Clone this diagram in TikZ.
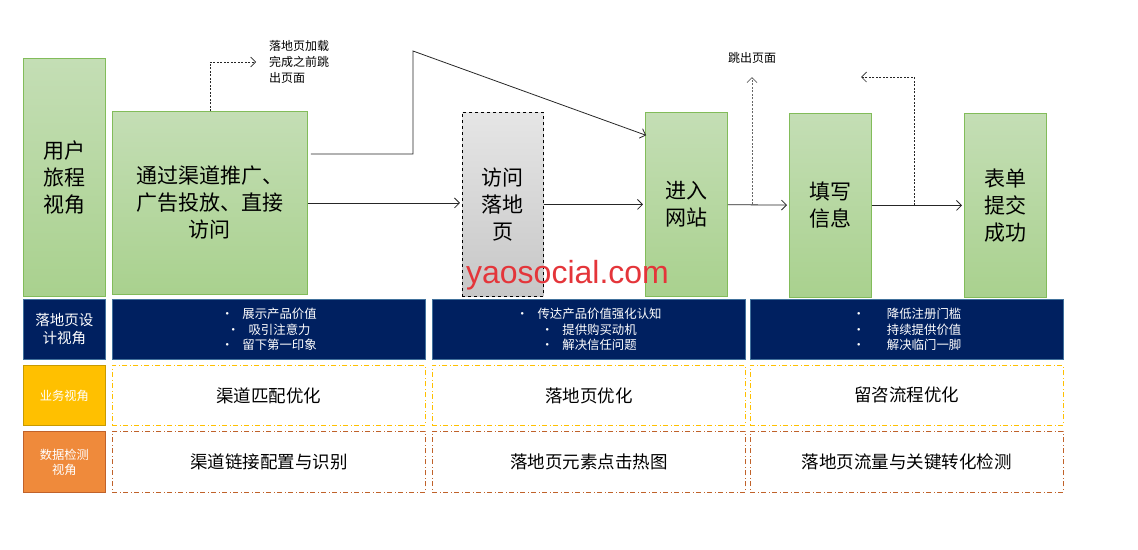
\documentclass[tikz,border=0pt]{standalone}
\usepackage{fontspec}
\setmainfont{Noto Sans CJK SC}
\newfontfamily\latinfont{Liberation Sans}
\usetikzlibrary{arrows.meta}

\definecolor{stagetop}{HTML}{C4DEB5}
\definecolor{stagebot}{HTML}{A9D18E}
\definecolor{stageline}{HTML}{82BC5A}
\definecolor{navy}{HTML}{002060}
\definecolor{navyline}{HTML}{41719C}
\definecolor{bizfill}{HTML}{FFC000}
\definecolor{bizline}{HTML}{C89A00}
\definecolor{datafill}{HTML}{EF8A3B}
\definecolor{dataline}{HTML}{C0622A}
\definecolor{markred}{HTML}{E4353A}

\tikzstyle{stage}=[draw=stageline,line width=0.8pt,top color=stagetop,bottom color=stagebot,
  anchor=north west,align=center,minimum width=82,minimum height=184,
  font=\fontsize{21}{27}\selectfont]
\tikzstyle{visit}=[stage,draw=black,dashed,top color=black!10,bottom color=black!22]
\tikzstyle{design}=[draw=navyline,line width=0.8pt,fill=navy,text=white,anchor=north west,
  align=center,minimum width=313,minimum height=60,font=\fontsize{12.4}{15.5}\selectfont]
\tikzstyle{side}=[anchor=north west,align=center,minimum width=82,minimum height=60,
  line width=0.8pt,text=white,font=\fontsize{12.3}{15}\selectfont]
\tikzstyle{bizbox}=[draw=bizfill,line width=0.8pt,dash pattern=on 5pt off 2.5pt on 1pt off 2.5pt,
  anchor=north west,minimum width=313,minimum height=60,font=\fontsize{17.5}{20}\selectfont]
\tikzstyle{databox}=[bizbox,draw=dataline,minimum height=61]
\tikzstyle{flow}=[draw=black!85,line width=0.8pt,-{Straight Barb[length=5pt,width=10pt]},shorten >=2pt]
\tikzstyle{jump}=[flow,dash pattern=on 2pt off 1.5pt,line width=0.7pt]
\tikzstyle{note}=[align=left,font=\fontsize{12}{16}\selectfont]

\begin{document}
\begin{tikzpicture}[x=1pt,y=-1pt]
  \useasboundingbox (0,0) rectangle (1138,549);

  % user journey
  \node (user) at (23,58) [stage,minimum height=238] {用户\\旅程\\视角};
  \node (channel) at (112,111) [stage,minimum width=195,minimum height=183] {通过渠道推广、\\广告投放、直接\\访问};
  \node (landing) at (462,112) [visit,minimum width=81] {访问\\落地\\页};
  \node (enter) at (645,112) [stage] {进入\\网站};
  \node (fill) at (789,113) [stage] {填写\\信息};
  \node (submit) at (964,113) [stage] {表单\\提交\\成功};

  \draw[flow] (channel.east) -- (channel.east -| landing.west);
  \draw[flow] (landing) -- (enter);
  \draw[flow] (enter) -- (fill);
  \draw[flow] (fill) -- (submit);

  \coordinate (kink) at (413,51);
  \draw[flow] ([xshift=3pt,yshift=49pt]channel.east) -| (kink) -- ([xshift=3pt,yshift=-24pt]enter.north west);

  % bounce before loading
  \node (bounce) at (258,62) [note,anchor=west,inner xsep=11pt] {落地页加载\\完成之前跳\\出页面};
  \draw[jump] (channel.north) |- (bounce.west);

  \node (exit) at (752,58) [note] {跳出页面};
  \draw[jump,draw=black!60] (enter.east -| exit) -- (exit.south) [shorten >=10pt];

  \coordinate (back) at (859,77);
  \coordinate (turn) at (914,77);
  \draw[jump] (turn |- fill.east) -- (turn) -- (back);

  % views
  \node (design) at (23,299) [side,draw=navyline,fill=navy,font=\fontsize{14.5}{18}\selectfont] {落地页设\\计视角};
  \node (biz) at (23,365) [side,draw=bizline,fill=bizfill] {业务视角};
  \node (data) at (23,431) [side,draw=dataline,fill=datafill,minimum height=61] {数据检测\\视角};

  \node (d1) at (112,299) [design] {•\hspace{9pt}展示产品价值\\•\hspace{9pt}吸引注意力\\•\hspace{9pt}留下第一印象};
  \node (d2) at (432,299) [design] {•\hspace{9pt}传达产品价值强化认知\\•\hspace{9pt}提供购买动机\\•\hspace{9pt}解决信任问题};
  \node (d3) at (750,299) [design] {•\hspace{22pt}降低注册门槛\\•\hspace{22pt}持续提供价值\\•\hspace{22pt}解决临门一脚};

  \foreach \n/\xa/\biz/\data in {1/112/渠道匹配优化/渠道链接配置与识别,
      2/432/落地页优化/落地页元素点击热图,3/750/留咨流程优化/落地页流量与关键转化检测}{
    \node (b\n) at (\xa,365) [bizbox] {\biz};
    \node (m\n) at (\xa,431) [databox] {\data};
  }

  \node (mark) at (567.5,283) [anchor=base,inner sep=0,text=markred,
    font=\latinfont\fontsize{32}{32}\selectfont] {yaosocial.com};
\end{tikzpicture}
\end{document}
